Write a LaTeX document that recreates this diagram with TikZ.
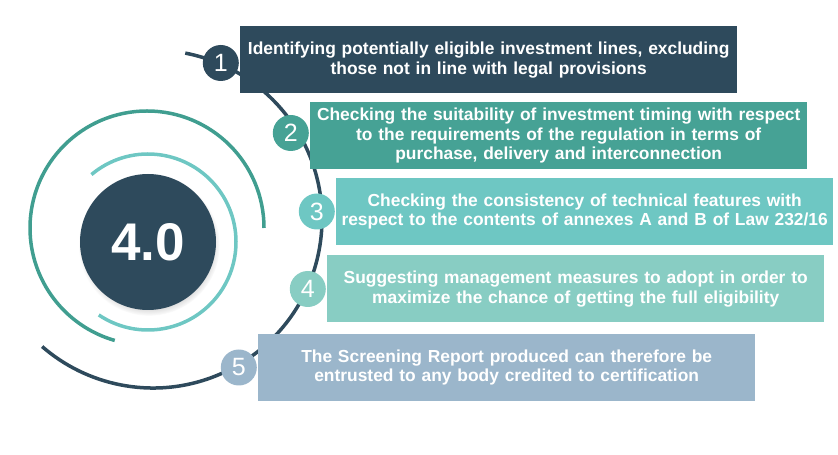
\documentclass[tikz,border=0pt]{standalone}
\usepackage{xcolor}
\usepackage{fontspec}
\setmainfont{Liberation Sans}
\usepackage{tikz}
\usetikzlibrary{positioning, shadows}
\definecolor{navyblue}{RGB}{46, 74, 92}
\definecolor{seateal}{RGB}{70, 162, 149}
\definecolor{aquateal}{RGB}{110, 199, 195}
\definecolor{mintteal}{RGB}{136, 205, 195}
\definecolor{steelblue}{RGB}{155, 182, 203}
\definecolor{arcteal}{RGB}{64, 158, 144}

\begin{document}
\begin{tikzpicture}[x=1pt, y=1pt,
    stepbox/.style={minimum width=497pt, minimum height=67pt, inner sep=0pt,
          text width=494pt, align=center, text=white,
          font=\fontsize{17.4}{19.5}\selectfont\bfseries},
    numdot/.style={circle, minimum size=36pt, inner sep=0pt, text=white,
          font=\fontsize{25}{25}\selectfont},
    ring/.style={line width=3.5pt}]
    \useasboundingbox (0,0) rectangle (838,455);
    % rings behind everything
    \draw[ring, arcteal] (147,227) ++(0:117) arc[start angle=0, end angle=254, radius=117];
    \draw[ring, aquateal] (148,213) ++(130:88) arc[start angle=130, end angle=-124, radius=88];
    \draw[ring, navyblue] (153,236) ++(79:169) arc[start angle=79, end angle=-131, radius=169];
    % core
    \node[circle, fill=navyblue, minimum size=136pt, text=white,
          circular drop shadow={shadow scale=1.04, shadow xshift=1pt, shadow yshift=-3pt, opacity=0.4},
          font=\fontsize{53}{53}\selectfont\bfseries] (core) at (148,213) {4.0};
    % steps
    \node[stepbox, fill=navyblue, anchor=west] (s1) at (240,395)
        {Identifying potentially eligible investment lines, excluding\\ those not in line with legal provisions};
    \node[stepbox, fill=seateal, anchor=west] (s2) at (310,319)
        {Checking the suitability of investment timing with respect\\ to the requirements of the regulation in terms of\\ purchase, delivery and interconnection};
    \node[stepbox, fill=aquateal, anchor=west] (s3) at (336,243.5)
        {Checking the consistency of technical features with\\ respect to the contents of annexes A and B of Law 232/16};
    \node[stepbox, fill=mintteal, anchor=west] (s4) at (327,166)
        {Suggesting management measures to adopt in order to\\ maximize the chance of getting the full eligibility};
    \node[stepbox, fill=steelblue, anchor=west] (s5) at (258,87.5)
        {The Screening Report produced can therefore be\\ entrusted to any body credited to certification};
    % numbers
    \node[numdot, fill=navyblue, left=1pt of s1, yshift=-3pt] (n1) {1};
    \node[numdot, fill=seateal, left=1pt of s2, yshift=3pt] (n2) {2};
    \node[numdot, fill=aquateal, left=1pt of s3] (n3) {3};
    \node[numdot, fill=mintteal, left=1pt of s4] (n4) {4};
    \node[numdot, fill=steelblue, left=1pt of s5] (n5) {5};
\end{tikzpicture}
\end{document}
